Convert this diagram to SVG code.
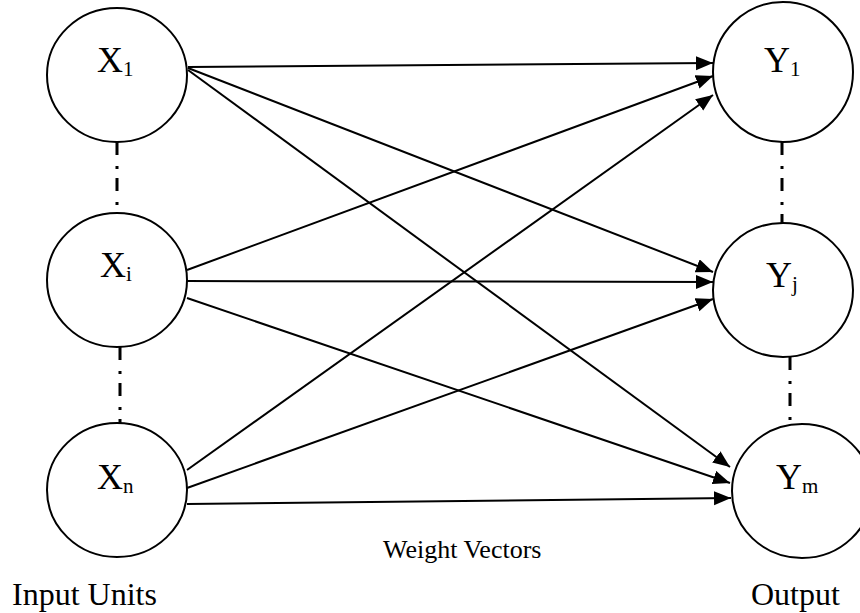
<svg xmlns="http://www.w3.org/2000/svg" width="860" height="613" viewBox="0 0 860 613">
  <style>
    .unit { fill: #ffffff; stroke: #000000; stroke-width: 2; }
    .lbl { font-family: "Liberation Serif", "Times New Roman", serif; font-size: 36px; fill: #000000; }
    .sub { font-size: 21px; }
    .cap { font-family: "Liberation Serif", "Times New Roman", serif; font-size: 32px; fill: #000000; }
    .wv { font-family: "Liberation Serif", "Times New Roman", serif; font-size: 26px; fill: #000000; }
    .edge { stroke: #000000; stroke-width: 2; fill: none; marker-end: url(#arrow); }
    .ellipsis { stroke: #000000; stroke-width: 3; stroke-dasharray: 13 11 3 9; fill: none; }
  </style>
  <defs>
    <marker id="arrow" markerUnits="userSpaceOnUse" markerWidth="18" markerHeight="15" refX="17" refY="7" orient="auto">
      <path d="M0,0 L17,7 L0,14 z" fill="#000000"/>
    </marker>
  </defs>

  <rect width="860" height="613" fill="#ffffff"/>

  <!-- weight connections, input layer to output layer -->
  <g id="connectors">
    <line class="edge" x1="188" y1="67" x2="713" y2="63"/>
    <line class="edge" x1="188" y1="68" x2="713" y2="272"/>
    <line class="edge" x1="188" y1="70" x2="730" y2="467"/>
    <line class="edge" x1="187" y1="270" x2="713" y2="76"/>
    <line class="edge" x1="187" y1="281" x2="713" y2="282"/>
    <line class="edge" x1="187" y1="298" x2="730" y2="483"/>
    <line class="edge" x1="187" y1="470" x2="713" y2="95"/>
    <line class="edge" x1="187" y1="488" x2="713" y2="299"/>
    <line class="edge" x1="187" y1="504" x2="731" y2="498"/>
  </g>

  <!-- elided units between the drawn ones -->
  <g id="ellipses">
    <line class="ellipsis" x1="117" y1="142" x2="117" y2="213"/>
    <line class="ellipsis" x1="120" y1="347" x2="120" y2="423"/>
    <line class="ellipsis" x1="782" y1="142" x2="782" y2="223"/>
    <line class="ellipsis" x1="790" y1="357" x2="790" y2="425"/>
  </g>

  <g id="x1">
    <ellipse class="unit" cx="117" cy="75" rx="70" ry="67"/>
    <text class="lbl" x="97" y="72">X<tspan class="sub" dy="4">1</tspan></text>
  </g>
  <g id="xi">
    <ellipse class="unit" cx="117" cy="280" rx="70" ry="67"/>
    <text class="lbl" x="100" y="277">X<tspan class="sub" dy="4">i</tspan></text>
  </g>
  <g id="xn">
    <ellipse class="unit" cx="117" cy="490" rx="70" ry="67"/>
    <text class="lbl" x="97" y="489">X<tspan class="sub" dy="4">n</tspan></text>
  </g>

  <g id="y1">
    <ellipse class="unit" cx="783" cy="72" rx="70" ry="70"/>
    <text class="lbl" x="764" y="72">Y<tspan class="sub" dy="4">1</tspan></text>
  </g>
  <g id="yj">
    <ellipse class="unit" cx="783" cy="290" rx="70" ry="67"/>
    <text class="lbl" x="766" y="287">Y<tspan class="sub" dy="4">j</tspan></text>
  </g>
  <g id="ym">
    <ellipse class="unit" cx="802" cy="491" rx="70" ry="67"/>
    <text class="lbl" x="776" y="489">Y<tspan class="sub" dy="4">m</tspan></text>
  </g>

  <g id="captions">
    <text class="wv" x="383" y="558">Weight Vectors</text>
    <text class="cap" x="12" y="605">Input Units</text>
    <text class="cap" x="751" y="605">Output</text>
  </g>
</svg>
